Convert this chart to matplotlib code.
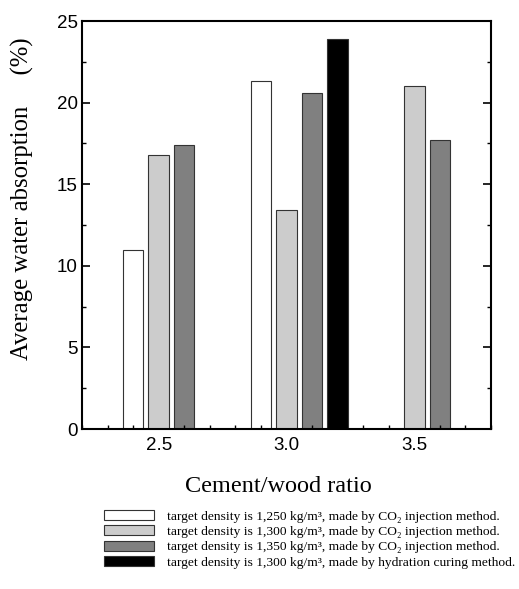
import numpy as np
import matplotlib
matplotlib.use("Agg")
import matplotlib.pyplot as plt
from matplotlib.ticker import MultipleLocator

# ----- Data -----
ratios = [2.5, 3.0, 3.5]
d1250_co2 = [11.0, 21.3, np.nan]
d1300_co2 = [16.8, 13.4, 21.0]
d1350_co2 = [17.4, 20.6, 17.7]
d1300_hyd = [np.nan, 23.9, np.nan]

labels = [
    "target density is 1,250 kg/m³, made by CO₂ injection method.",
    "target density is 1,300 kg/m³, made by CO₂ injection method.",
    "target density is 1,350 kg/m³, made by CO₂ injection method.",
    "target density is 1,300 kg/m³, made by hydration curing method.",
]
series = [d1250_co2, d1300_co2, d1350_co2, d1300_hyd]
colors = ["white", "#cccccc", "#808080", "black"]
offsets = [-0.1, 0.0, 0.1, 0.2]

serif = ["Liberation Serif", "DejaVu Serif"]

# ----- Plot -----
fig = plt.figure(figsize=(5.19, 5.89), dpi=100)
ax = fig.add_axes([0.158, 0.2716, 0.788, 0.6927])

x = np.array(ratios)
for vals, c, off, lab in zip(series, colors, offsets, labels):
    ax.bar(x + off, vals, width=0.08, color=c, edgecolor="#333333",
           linewidth=0.8, label=lab)

ax.set_xlim(2.2, 3.8)
ax.set_ylim(0, 25)
ax.set_xticks(ratios)
ax.set_xticklabels(["2.5", "3.0", "3.5"])
ax.xaxis.set_minor_locator(MultipleLocator(0.1))
ax.yaxis.set_major_locator(MultipleLocator(5))
ax.yaxis.set_minor_locator(MultipleLocator(2.5))
ax.tick_params(axis="both", which="both", direction="in", top=False, right=True,
               labelfontfamily="Liberation Sans", labelsize=13.5)
ax.tick_params(which="major", length=6, width=1.2, pad=3)
ax.tick_params(which="minor", length=3, width=1.0)
ax.tick_params(axis="x", which="major", length=0, pad=6)
for s in ax.spines.values():
    s.set_linewidth(1.5)

ax.set_xlabel("Cement/wood ratio", family=serif, fontsize=17.5)
ax.xaxis.set_label_coords(0.48, -0.115)
ax.set_ylabel("Average water absorption     (%)", family=serif, fontsize=17.8)
ax.yaxis.set_label_coords(-0.118, 0.564)

fig.legend(loc="upper left", bbox_to_anchor=(0.2, 0.134), frameon=False,
           prop={"family": serif, "size": 9.7},
           handlelength=3.7, handleheight=0.75, labelspacing=0.2,
           handletextpad=1.0, borderpad=0, borderaxespad=0)

fig.savefig("out.png", dpi=100)
